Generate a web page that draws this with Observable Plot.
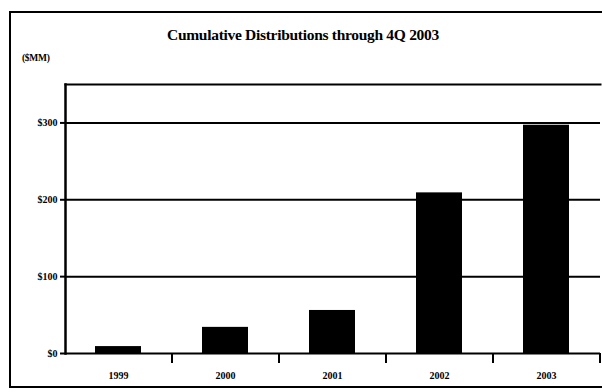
<!DOCTYPE html>
<html>
<head>
<meta charset="utf-8">
<script src="https://cdn.jsdelivr.net/npm/d3@7"></script>
<script src="https://cdn.jsdelivr.net/npm/@observablehq/plot@0.6"></script>
<style>
  html, body { margin: 0; padding: 0; background: #fff; overflow: hidden; }
  #wrap { position: relative; width: 602px; height: 392px; font-family: "Liberation Serif", "Times New Roman", serif; }
  #border { position: absolute; left: 9px; top: 11px; width: 620px; height: 377px; border: 2px solid #000; box-sizing: border-box; }
  #title { position: absolute; left: 0; width: 606px; top: 26px; text-align: center; font-weight: bold; font-size: 15.5px; letter-spacing: -0.3px; }
  #unit { position: absolute; left: 22px; top: 53px; font-weight: bold; font-size: 9.5px; letter-spacing: -0.3px; }
  #chart { position: absolute; left: 0; top: 0; width: 602px; height: 392px; }
  #chart svg { font-family: "Liberation Serif", "Times New Roman", serif; max-width: none; }
</style>
</head>
<body>
<div id="wrap">
  <div id="border"></div>
  <div id="title">Cumulative Distributions through 4Q 2003</div>
  <div id="unit">($MM)</div>
  <div id="chart"></div>
</div>
<script>
const years = ["1999", "2000", "2001", "2002", "2003"];
const values = [9, 34, 56, 209, 297];
const yTicks = [0, 100, 200, 300];
const yTickLabels = ["$0", "$100", "$200", "$300"];

const data = years.map((y, i) => ({year: y, value: values[i]}));
const step = (600 - 65) / years.length;

const chart = Plot.plot({
  width: 602,
  height: 392,
  marginLeft: 65,
  marginTop: 84,
  marginBottom: 39,
  marginRight: 2,
  style: {background: "transparent", fontSize: "10px", fontWeight: "bold"},
  x: {domain: years, paddingInner: 0.57, paddingOuter: 0.285, align: 0.5},
  y: {domain: [0, 350]},
  marks: [
    Plot.ruleY(yTicks, {stroke: "#000", strokeWidth: 2}),
    Plot.barY(data, {x: "year", y: "value", fill: "#000"}),
    Plot.frame({anchor: "top", stroke: "#000", strokeWidth: 2}),
    Plot.frame({anchor: "left", stroke: "#000", strokeWidth: 2.5}),
    Plot.axisY({ticks: yTicks, tickFormat: (d) => yTickLabels[yTicks.indexOf(d)], tickSize: 5, tickPadding: 3, strokeWidth: 2, fontSize: 10, fontWeight: "bold", label: null}),
    Plot.axisX({tickSize: 10, dx: step / 2, text: null, strokeWidth: 2, label: null}),
    Plot.axisX({tickSize: 0, tickPadding: 18, fontSize: 10, fontWeight: "bold", label: null})
  ]
});
document.getElementById("chart").appendChild(chart);
</script>
</body>
</html>
